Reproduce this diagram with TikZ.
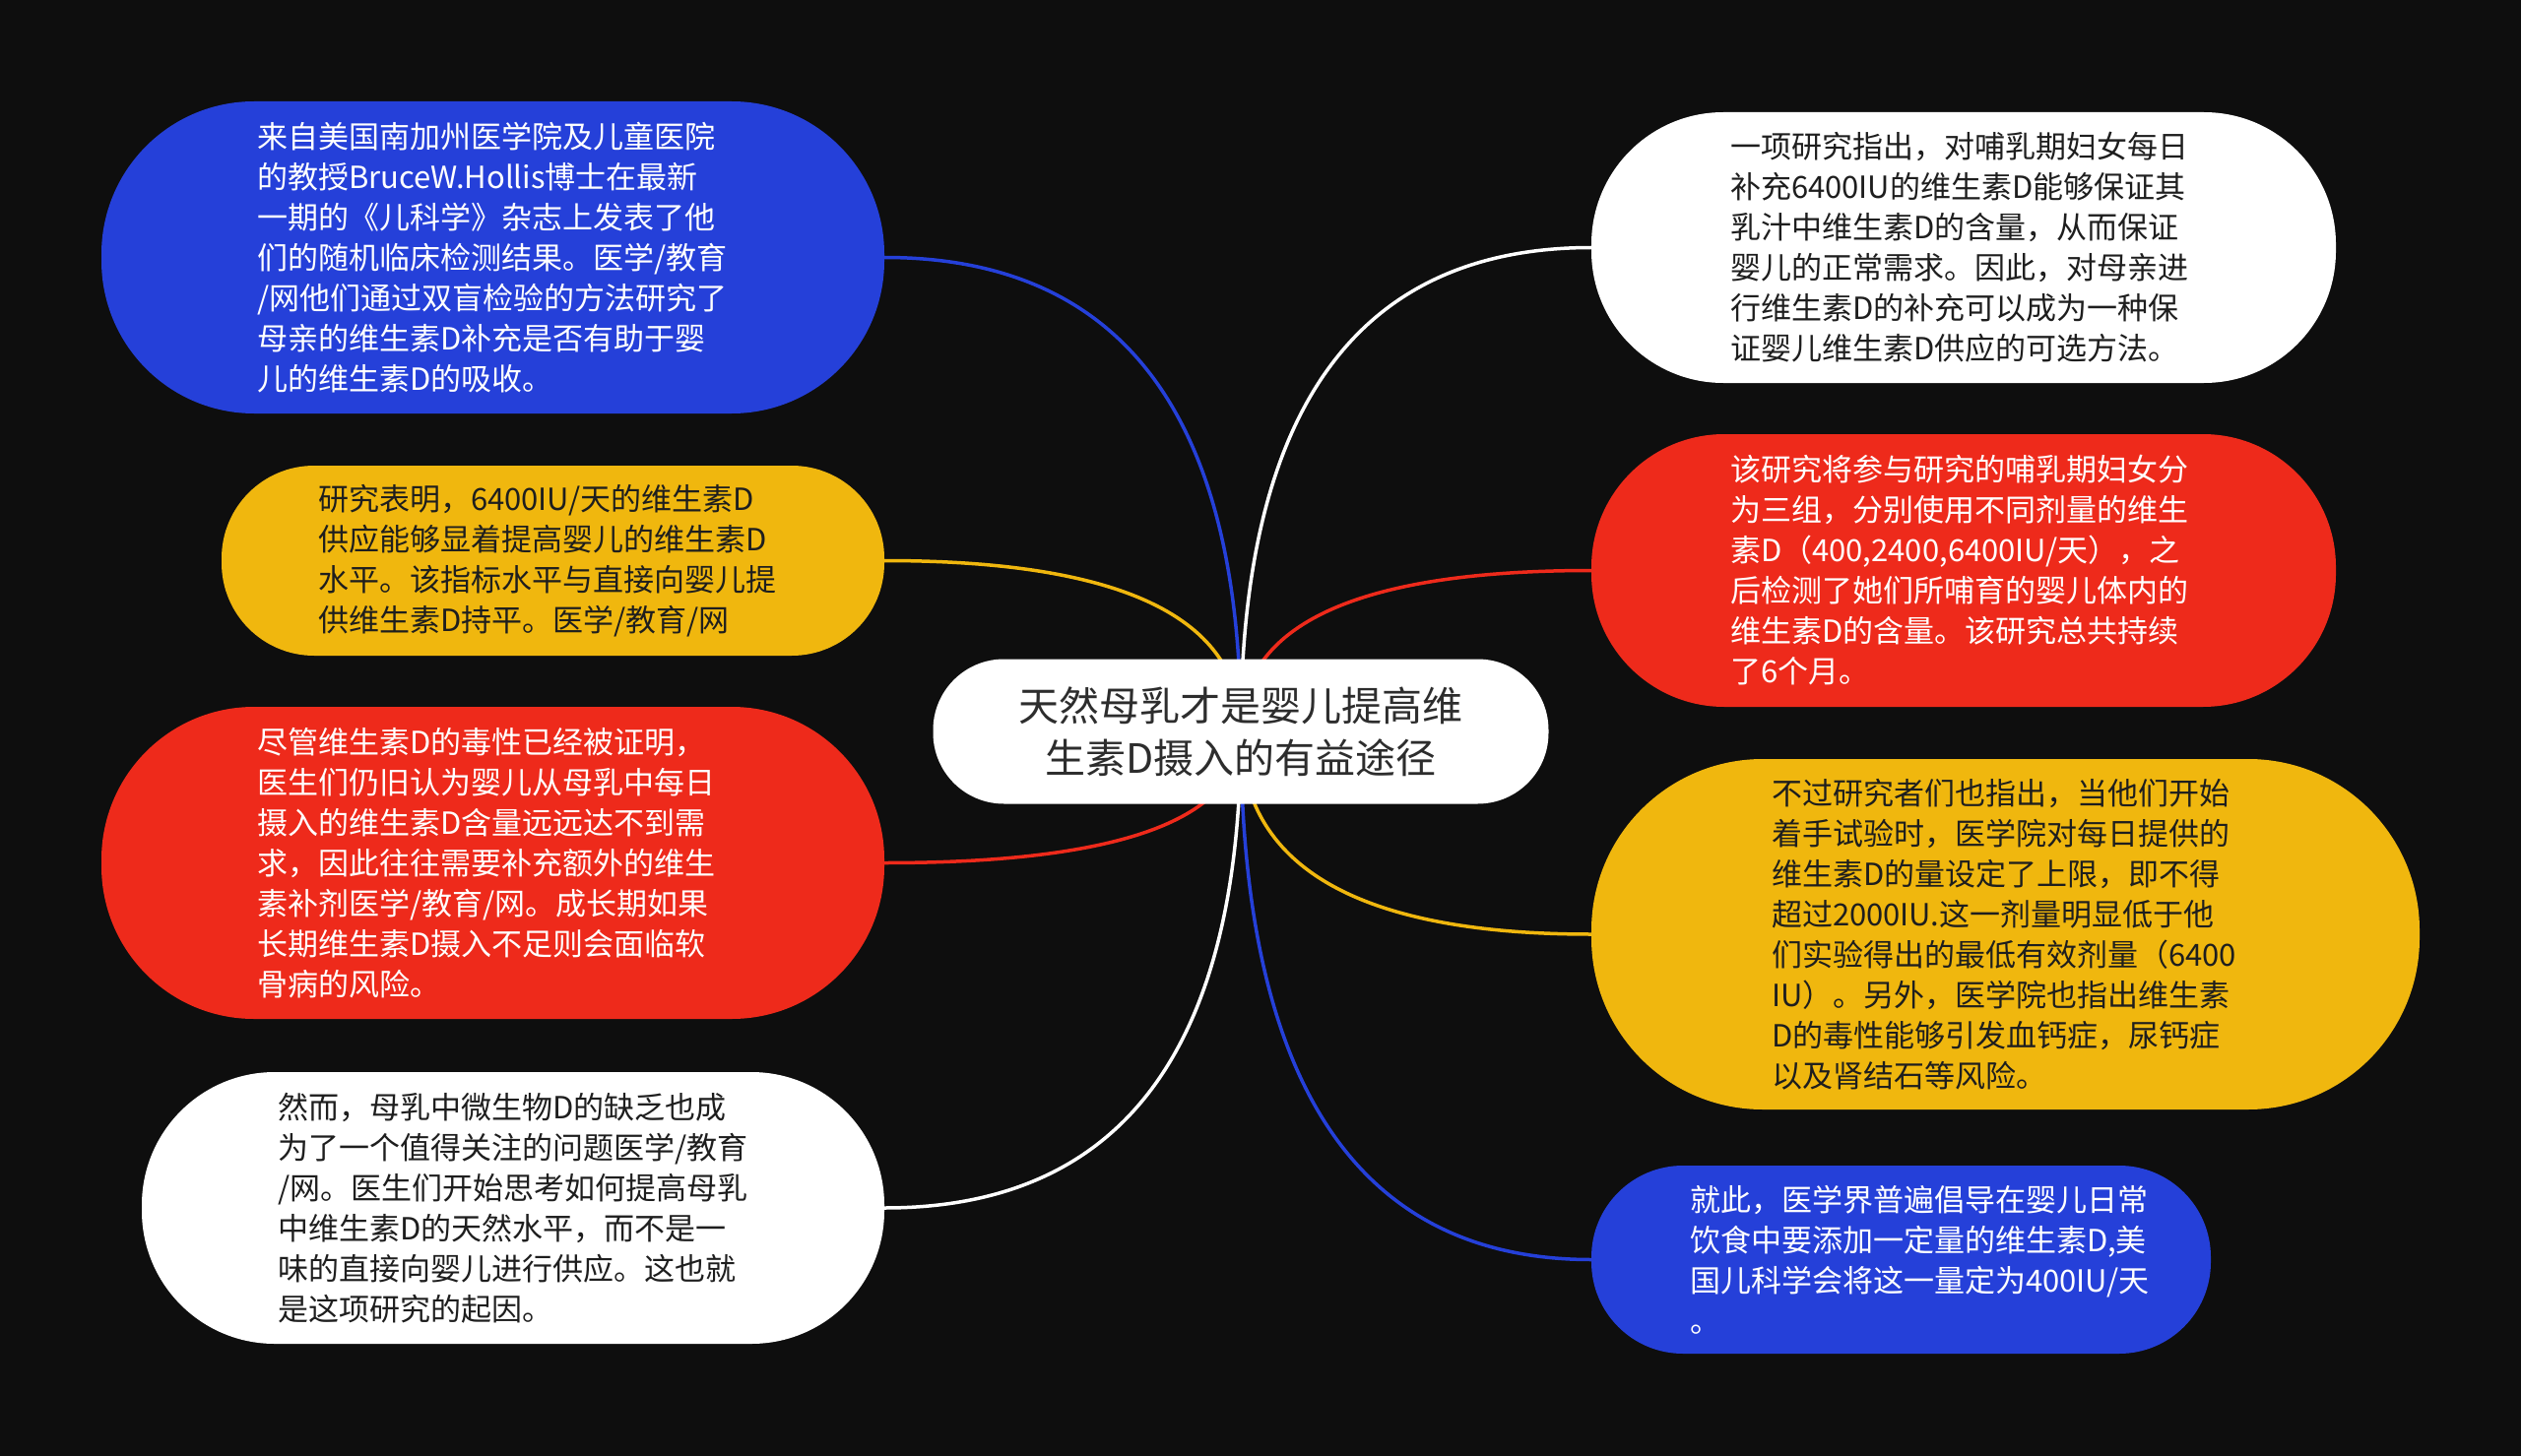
\documentclass[tikz,border=0pt]{standalone}
\usepackage{fontspec}
\setmainfont{Noto Sans CJK SC}
\usetikzlibrary{calc,backgrounds}
\definecolor{bgc}{RGB}{14,14,14}
\definecolor{mblue}{RGB}{37,64,217}
\definecolor{mred}{RGB}{238,42,27}
\definecolor{myellow}{RGB}{240,183,14}
\definecolor{dtext}{RGB}{30,30,30}
\definecolor{ctext}{RGB}{45,45,45}
\begin{document}
\begin{tikzpicture}[x=1pt,y=-1pt,
  box/.style={rectangle, align=left, inner sep=0pt, text width=478pt, font=\fontsize{31}{41}\selectfont},
  bluebox/.style={box, fill=mblue, text=white},
  redbox/.style={box, fill=mred, text=white},
  yellowbox/.style={box, fill=myellow, text=dtext},
  whitebox/.style={box, fill=white, text=dtext},
  link/.style={line width=3.5pt},
]
\useasboundingbox (0,0) rectangle (2560,1479);

\node[rectangle, fill=white, text=ctext, align=center, inner sep=0pt,
  font=\fontsize{41}{53}\selectfont, minimum width=625pt, minimum height=147pt,
  rounded corners=72pt] (C) at (1260,743)
  {天然母乳才是婴儿提高维\\生素D摄入的有益途径};

\node[bluebox, text width=479pt, minimum width=795pt, minimum height=317pt, rounded corners=155pt] (L1) at (500.5,261.5)
{来自美国南加州医学院及儿童医院\\的教授BruceW.Hollis博士在最新\\一期的《儿科学》杂志上发表了他\\们的随机临床检测结果。医学/教育\\/网他们通过双盲检验的方法研究了\\母亲的维生素D补充是否有助于婴\\儿的维生素D的吸收。};

\node[yellowbox, text width=477pt, minimum width=673pt, minimum height=193pt, rounded corners=94pt] (L2) at (561.5,569.5)
{研究表明，6400IU/天的维生素D\\供应能够显着提高婴儿的维生素D\\水平。该指标水平与直接向婴儿提\\供维生素D持平。医学/教育/网};

\node[redbox, text width=479pt, minimum width=795pt, minimum height=317pt, rounded corners=155pt] (L3) at (500.5,876.5)
{尽管维生素D的毒性已经被证明，\\医生们仍旧认为婴儿从母乳中每日\\摄入的维生素D含量远远达不到需\\求，因此往往需要补充额外的维生\\素补剂医学/教育/网。成长期如果\\长期维生素D摄入不足则会面临软\\骨病的风险。};

\node[whitebox, text width=478pt, minimum width=754pt, minimum height=276pt, rounded corners=135pt] (L4) at (521,1227)
{然而，母乳中微生物D的缺乏也成\\为了一个值得关注的问题医学/教育\\/网。医生们开始思考如何提高母乳\\中维生素D的天然水平，而不是一\\味的直接向婴儿进行供应。这也就\\是这项研究的起因。};

\node[whitebox, text width=474pt, minimum width=756pt, minimum height=275pt, rounded corners=134pt] (R1) at (1994,251.5)
{一项研究指出，对哺乳期妇女每日\\补充6400IU的维生素D能够保证其\\乳汁中维生素D的含量，从而保证\\婴儿的正常需求。因此，对母亲进\\行维生素D的补充可以成为一种保\\证婴儿维生素D供应的可选方法。};

\node[redbox, text width=474pt, minimum width=756pt, minimum height=277pt, rounded corners=135pt] (R2) at (1994,579.5)
{该研究将参与研究的哺乳期妇女分\\为三组，分别使用不同剂量的维生\\素D（400,2400,6400IU/天），之\\后检测了她们所哺育的婴儿体内的\\维生素D的含量。该研究总共持续\\了6个月。};

\node[yellowbox, text width=475pt, minimum width=841pt, minimum height=356pt, rounded corners=174pt] (R3) at (2036.5,949)
{不过研究者们也指出，当他们开始\\着手试验时，医学院对每日提供的\\维生素D的量设定了上限，即不得\\超过2000IU.这一剂量明显低于他\\们实验得出的最低有效剂量（6400\\IU）。另外，医学院也指出维生素\\D的毒性能够引发血钙症，尿钙症\\以及肾结石等风险。};

\node[bluebox, text width=429pt, minimum width=629pt, minimum height=191pt, rounded corners=93pt] (R4) at (1930.5,1279.5)
{就此，医学界普遍倡导在婴儿日常\\饮食中要添加一定量的维生素D,美\\国儿科学会将这一量定为400IU/天\\。};

\begin{scope}[on background layer]
\fill[bgc] (0,0) rectangle (2560,1479);
\draw[link, mblue] (C.center) .. controls ($(C.center)!0.6667!(C.center |- L1.east)$) and ($(L1.east)!0.6667!(C.center |- L1.east)$) .. (L1.east);
\draw[link, myellow] (C.center) .. controls ($(C.center)!0.6667!(C.center |- L2.east)$) and ($(L2.east)!0.6667!(C.center |- L2.east)$) .. (L2.east);
\draw[link, mred] (C.center) .. controls ($(C.center)!0.6667!(C.center |- L3.east)$) and ($(L3.east)!0.6667!(C.center |- L3.east)$) .. (L3.east);
\draw[link, white] (C.center) .. controls ($(C.center)!0.6667!(C.center |- L4.east)$) and ($(L4.east)!0.6667!(C.center |- L4.east)$) .. (L4.east);
\draw[link, white] (C.center) .. controls ($(C.center)!0.6667!(C.center |- R1.west)$) and ($(R1.west)!0.6667!(C.center |- R1.west)$) .. (R1.west);
\draw[link, mred] (C.center) .. controls ($(C.center)!0.6667!(C.center |- R2.west)$) and ($(R2.west)!0.6667!(C.center |- R2.west)$) .. (R2.west);
\draw[link, myellow] (C.center) .. controls ($(C.center)!0.6667!(C.center |- R3.west)$) and ($(R3.west)!0.6667!(C.center |- R3.west)$) .. (R3.west);
\draw[link, mblue] (C.center) .. controls ($(C.center)!0.6667!(C.center |- R4.west)$) and ($(R4.west)!0.6667!(C.center |- R4.west)$) .. (R4.west);
\end{scope}
\end{tikzpicture}
\end{document}
